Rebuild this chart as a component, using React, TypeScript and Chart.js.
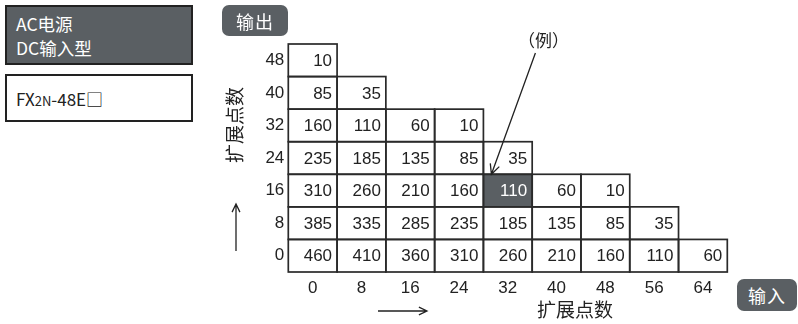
import React, { useEffect, useRef } from 'react';
import { Chart, registerables } from 'chart.js';

Chart.register(...registerables);

// ---- data ----
const xLabels = ['0', '8', '16', '24', '32', '40', '48', '56', '64'];
const yLabels = ['0', '8', '16', '24', '32', '40', '48'];
const row0 = [460, 410, 360, 310, 260, 210, 160, 110, 60];
const row8 = [385, 335, 285, 235, 185, 135, 85, 35];
const row16 = [310, 260, 210, 160, 110, 60, 10];
const row24 = [235, 185, 135, 85, 35];
const row32 = [160, 110, 60, 10];
const row40 = [85, 35];
const row48 = [10];
const rows: number[][] = [row0, row8, row16, row24, row32, row40, row48];
const highlightRow = 2;
const highlightCol = 4;
const axisTitle = '扩展点数';
const exampleLabel = '（例）';
const outLabel = '输出';
const inLabel = '输入';
const supplyLines = ['AC电源', 'DC输入型'];

const DARK = '#5a5f63';
const LINE = '#2a2a2a';
const CJK = '"Noto Sans CJK SC", "Noto Sans CJK JP", sans-serif';
const NUM = '"Liberation Sans", Arial, sans-serif';

function drawArrow(ctx: CanvasRenderingContext2D, x1: number, y1: number, x2: number, y2: number, head = 9) {
  const a = Math.atan2(y2 - y1, x2 - x1);
  ctx.beginPath();
  ctx.moveTo(x1, y1);
  ctx.lineTo(x2, y2);
  ctx.moveTo(x2 - head * Math.cos(a - 0.45), y2 - head * Math.sin(a - 0.45));
  ctx.lineTo(x2, y2);
  ctx.lineTo(x2 - head * Math.cos(a + 0.45), y2 - head * Math.sin(a + 0.45));
  ctx.stroke();
}

const cellPlugin = {
  id: 'cells',
  afterDatasetsDraw(chart: any) {
    const ctx: CanvasRenderingContext2D = chart.ctx;
    ctx.save();
    const cells: any[] = [];
    chart.data.datasets.forEach((_: any, di: number) => {
      const meta = chart.getDatasetMeta(di);
      meta.data.forEach((el: any, i: number) => {
        const v = rows[di][i];
        if (v == null) return;
        const p = el.getProps(['x', 'y', 'base', 'width'], true);
        const left = p.x - p.width / 2;
        const top = Math.min(p.y, p.base);
        const h = Math.abs(p.base - p.y);
        cells.push({ left, top, w: p.width, h, v, hl: di === highlightRow && i === highlightCol });
      });
    });
    ctx.lineWidth = 1.7;
    ctx.strokeStyle = LINE;
    cells.forEach((c) => ctx.strokeRect(c.left, c.top, c.w, c.h));
    ctx.font = `17px ${NUM}`;
    ctx.textAlign = 'right';
    ctx.textBaseline = 'middle';
    cells.forEach((c) => {
      ctx.fillStyle = c.hl ? '#ffffff' : '#222222';
      ctx.fillText(String(c.v), c.left + c.w - 5, c.top + c.h / 2 + 1);
    });
    ctx.restore();
  },
  afterDraw(chart: any) {
    const ctx: CanvasRenderingContext2D = chart.ctx;
    ctx.save();
    ctx.fillStyle = '#222';
    ctx.strokeStyle = '#222';
    ctx.lineWidth = 1.3;
    // y title (rotated)
    ctx.font = `19px ${CJK}`;
    ctx.textAlign = 'center';
    ctx.textBaseline = 'middle';
    ctx.save();
    ctx.translate(235, 125);
    ctx.rotate(-Math.PI / 2);
    ctx.fillText(axisTitle, 0, 0);
    ctx.restore();
    // up arrow
    drawArrow(ctx, 236, 251, 236, 204, 9);
    // x title
    ctx.fillText(axisTitle, 575, 310);
    // right arrow
    drawArrow(ctx, 378, 311, 427, 311, 9);
    // example
    const el = chart.getDatasetMeta(highlightRow).data[highlightCol];
    const p = el.getProps(['x', 'y', 'width'], true);
    const tipX = p.x - p.width / 2 + 8;
    const tipY = p.y;
    ctx.font = `17px ${CJK}`;
    ctx.fillText(exampleLabel, tipX + 52, 41);
    drawArrow(ctx, tipX + 44, 53, tipX, tipY, 11);
    ctx.restore();
  },
};

export default function App() {
  const ref = useRef<HTMLCanvasElement | null>(null);
  useEffect(() => {
    if (!ref.current) return;
    const datasets = rows.map((vals, r) => ({
      label: yLabels[r],
      data: xLabels.map((_, c) => (vals[c] != null ? 1 : null)),
      backgroundColor: xLabels.map((_, c) => (r === highlightRow && c === highlightCol ? DARK : '#ffffff')),
      borderWidth: 0,
      barPercentage: 1,
      categoryPercentage: 1,
      inflateAmount: 0,
    }));
    const chart = new Chart(ref.current, {
      type: 'bar',
      data: { labels: xLabels, datasets },
      options: {
        animation: false,
        responsive: false,
        devicePixelRatio: 1,
        layout: { padding: { left: 228.3, right: 70.7, top: 44, bottom: 0 } },
        plugins: { legend: { display: false }, tooltip: { enabled: false } },
        scales: {
          x: {
            type: 'category',
            stacked: true,
            offset: true,
            grid: { display: false, drawTicks: false },
            border: { display: false },
            ticks: { font: { family: NUM, size: 17 }, color: '#222', padding: 6, maxRotation: 0, autoSkip: false },
            afterFit: (s: any) => { s.height = 52; },
          },
          y: {
            type: 'linear',
            stacked: true,
            min: 0,
            max: 7,
            grid: { display: false, drawTicks: false },
            border: { display: false },
            afterBuildTicks: (s: any) => { s.ticks = yLabels.map((_, i) => ({ value: i + 0.5 })); },
            ticks: {
              font: { family: NUM, size: 17 },
              color: '#222',
              padding: 4,
              autoSkip: false,
              callback: (_v: any, i: number) => yLabels[i],
            },
            afterFit: (s: any) => { s.width = 60; },
          },
        },
      },
      plugins: [cellPlugin],
    } as any);
    return () => chart.destroy();
  }, []);

  const pill: React.CSSProperties = {
    position: 'absolute', background: DARK, color: '#fff', borderRadius: 7,
    display: 'flex', alignItems: 'center', justifyContent: 'center',
    fontFamily: CJK, fontSize: 18, letterSpacing: 1,
  };

  return (
    <div style={{ position: 'absolute', left: 0, top: 0, width: 798, height: 324, background: '#fff', overflow: 'hidden' }}>
      <canvas ref={ref} width={798} height={324} style={{ position: 'absolute', left: 0, top: 0, width: 798, height: 324 }} />
      <div style={{
        position: 'absolute', left: 5, top: 5, width: 188, height: 60, boxSizing: 'border-box',
        border: '2px solid #222', background: DARK, color: '#fff', fontFamily: CJK, fontSize: 17.5,
        lineHeight: '23.5px', padding: '5px 0 0 9px',
      }}>
        <div>{supplyLines[0]}</div>
        <div>{supplyLines[1]}</div>
      </div>
      <div style={{
        position: 'absolute', left: 5, top: 74, width: 188, height: 48, boxSizing: 'border-box',
        border: '2px solid #222', background: '#fff', color: '#222', fontFamily: CJK, fontSize: 17,
        display: 'flex', alignItems: 'center', paddingLeft: 9, whiteSpace: 'pre',
      }}>
        <span>FX<span style={{ fontSize: 13 }}>2N</span>-48E□</span>
      </div>
      <div style={{ ...pill, left: 222, top: 5, width: 66, height: 31 }}>{outLabel}</div>
      <div style={{ ...pill, left: 737, top: 279, width: 60, height: 32 }}>{inLabel}</div>
    </div>
  );
}
